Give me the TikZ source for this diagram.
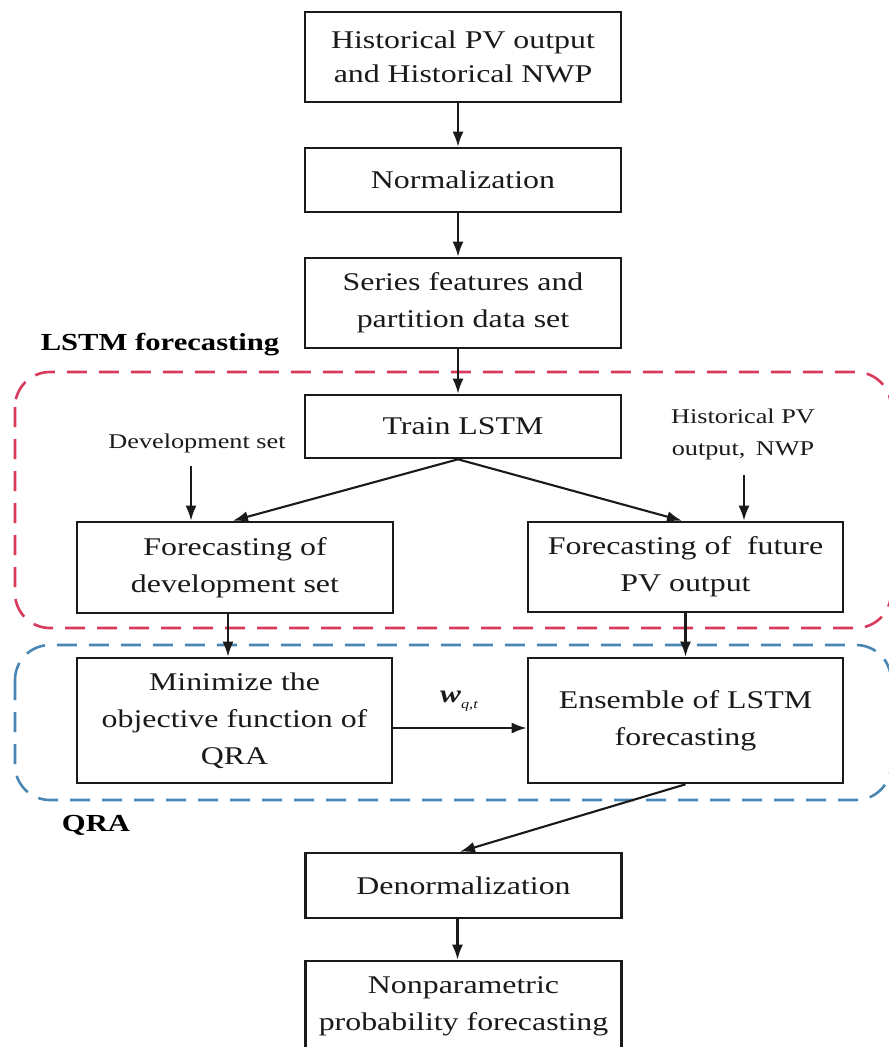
\documentclass[tikz,border=0pt]{standalone}
\usepackage{fontspec}
\setmainfont{Liberation Serif}[FakeStretch=1.25]
\usetikzlibrary{arrows.meta}
\definecolor{ink}{HTML}{1A1A1A}
\definecolor{lstmred}{HTML}{D93A5C}
\definecolor{qrablue}{HTML}{4A86B4}
\begin{document}
\begin{tikzpicture}[x=1pt,y=-1pt,
  box/.style={draw=ink, line width=2.6pt, text=ink, align=center, inner sep=0pt,
              minimum width=316pt, font=\fontsize{25.5}{37}\selectfont},
  arr/.style={draw=ink, line width=2.1pt, -{Latex[length=15pt,width=11pt]}},
  lbl/.style={text=ink, align=center, inner sep=0pt, font=\fontsize{21}{32}\selectfont},
  group/.style={line width=2.6pt, dash pattern=on 20pt off 12pt, rounded corners=35pt},
  grouptitle/.style={text=black, inner sep=0pt, font=\fontsize{24.5}{28}\selectfont\bfseries}]
\useasboundingbox (0,0) rectangle (889,1047);
\fill[white] (0,0) rectangle (889,1047);

% dashed stage frames
\draw[group, lstmred] (15,372) rectangle (891,628);
\draw[group, qrablue] (15,645) rectangle (891,800);
\node[grouptitle] (lstmtitle) at (160,345) {LSTM forecasting};
\node[grouptitle] (qratitle) at (96,825) {QRA};

% process boxes
\node[box, minimum height=90pt, font=\fontsize{25.5}{34}\selectfont] (hist) at (463,57)
  {Historical PV output\\and Historical NWP};
\node[box, minimum height=64pt] (norm) at (463,180) {Normalization};
\node[box, minimum height=90pt] (series) at (463,303) {Series features and\\partition data set};
\node[box, minimum height=63pt] (train) at (463,426.5) {Train LSTM};
\node[box, minimum height=91pt] (fdev) at (235,567.5) {Forecasting of\\development set};
\node[box, minimum height=90pt, minimum width=315pt] (ffut) at (685.5,567) {Forecasting of\ \ future\\PV output};
\node[box, minimum height=125pt, minimum width=315pt] (minqra) at (234.5,720.5)
  {Minimize the\\objective function of\\QRA};
\node[box, minimum height=125pt, minimum width=315pt] (ens) at (685.5,720.5)
  {Ensemble of LSTM\\forecasting};
\node[box, minimum height=65pt] (denorm) at (463.5,885.5) {Denormalization};
\node[box, minimum height=90pt] (npf) at (463.5,1006) {Nonparametric\\probability forecasting};

% side inputs
\node[lbl] (devin) at (197,443) {Development set};
\node[lbl] (histin) at (743,434) {Historical PV\\output,\enspace NWP};
\node[text=ink, inner sep=0pt] (wlbl) at (459,701)
  {\fontsize{25}{25}\selectfont\bfseries\itshape w\raisebox{-6pt}{\fontsize{13}{13}\selectfont\mdseries\itshape q,t}};

% main flow
\draw[arr] ([xshift=-5pt]hist.south) -- ([xshift=-5pt]norm.north);
\draw[arr] ([xshift=-5pt]norm.south) -- ([xshift=-5pt]series.north);
\draw[arr] ([xshift=-5pt]series.south) -- ([xshift=-5pt]train.north);
\draw[arr] ([xshift=-5pt]train.south) -- ([xshift=-2pt]fdev.north);
\draw[arr] ([xshift=-5pt]train.south) -- ([xshift=-3.5pt]ffut.north);
\draw[arr] ([xshift=-6pt,yshift=-13pt]devin.south) -- ([xshift=-44pt]fdev.north);
\draw[arr] ([xshift=1pt,yshift=-15pt]histin.south) -- ([xshift=58.5pt]ffut.north);
\draw[arr] ([xshift=-7pt]fdev.south) -- ([xshift=-6.5pt]minqra.north);
\draw[arr] (ffut.south) -- (ens.north);
\draw[arr] ([yshift=-7.5pt]minqra.east) -- ([yshift=-7.5pt]ens.west);
\draw[arr] (ens.south) -- ([xshift=-3.5pt]denorm.north);
\draw[arr] ([xshift=-6pt]denorm.south) -- ([xshift=-6pt]npf.north);
\end{tikzpicture}
\end{document}
